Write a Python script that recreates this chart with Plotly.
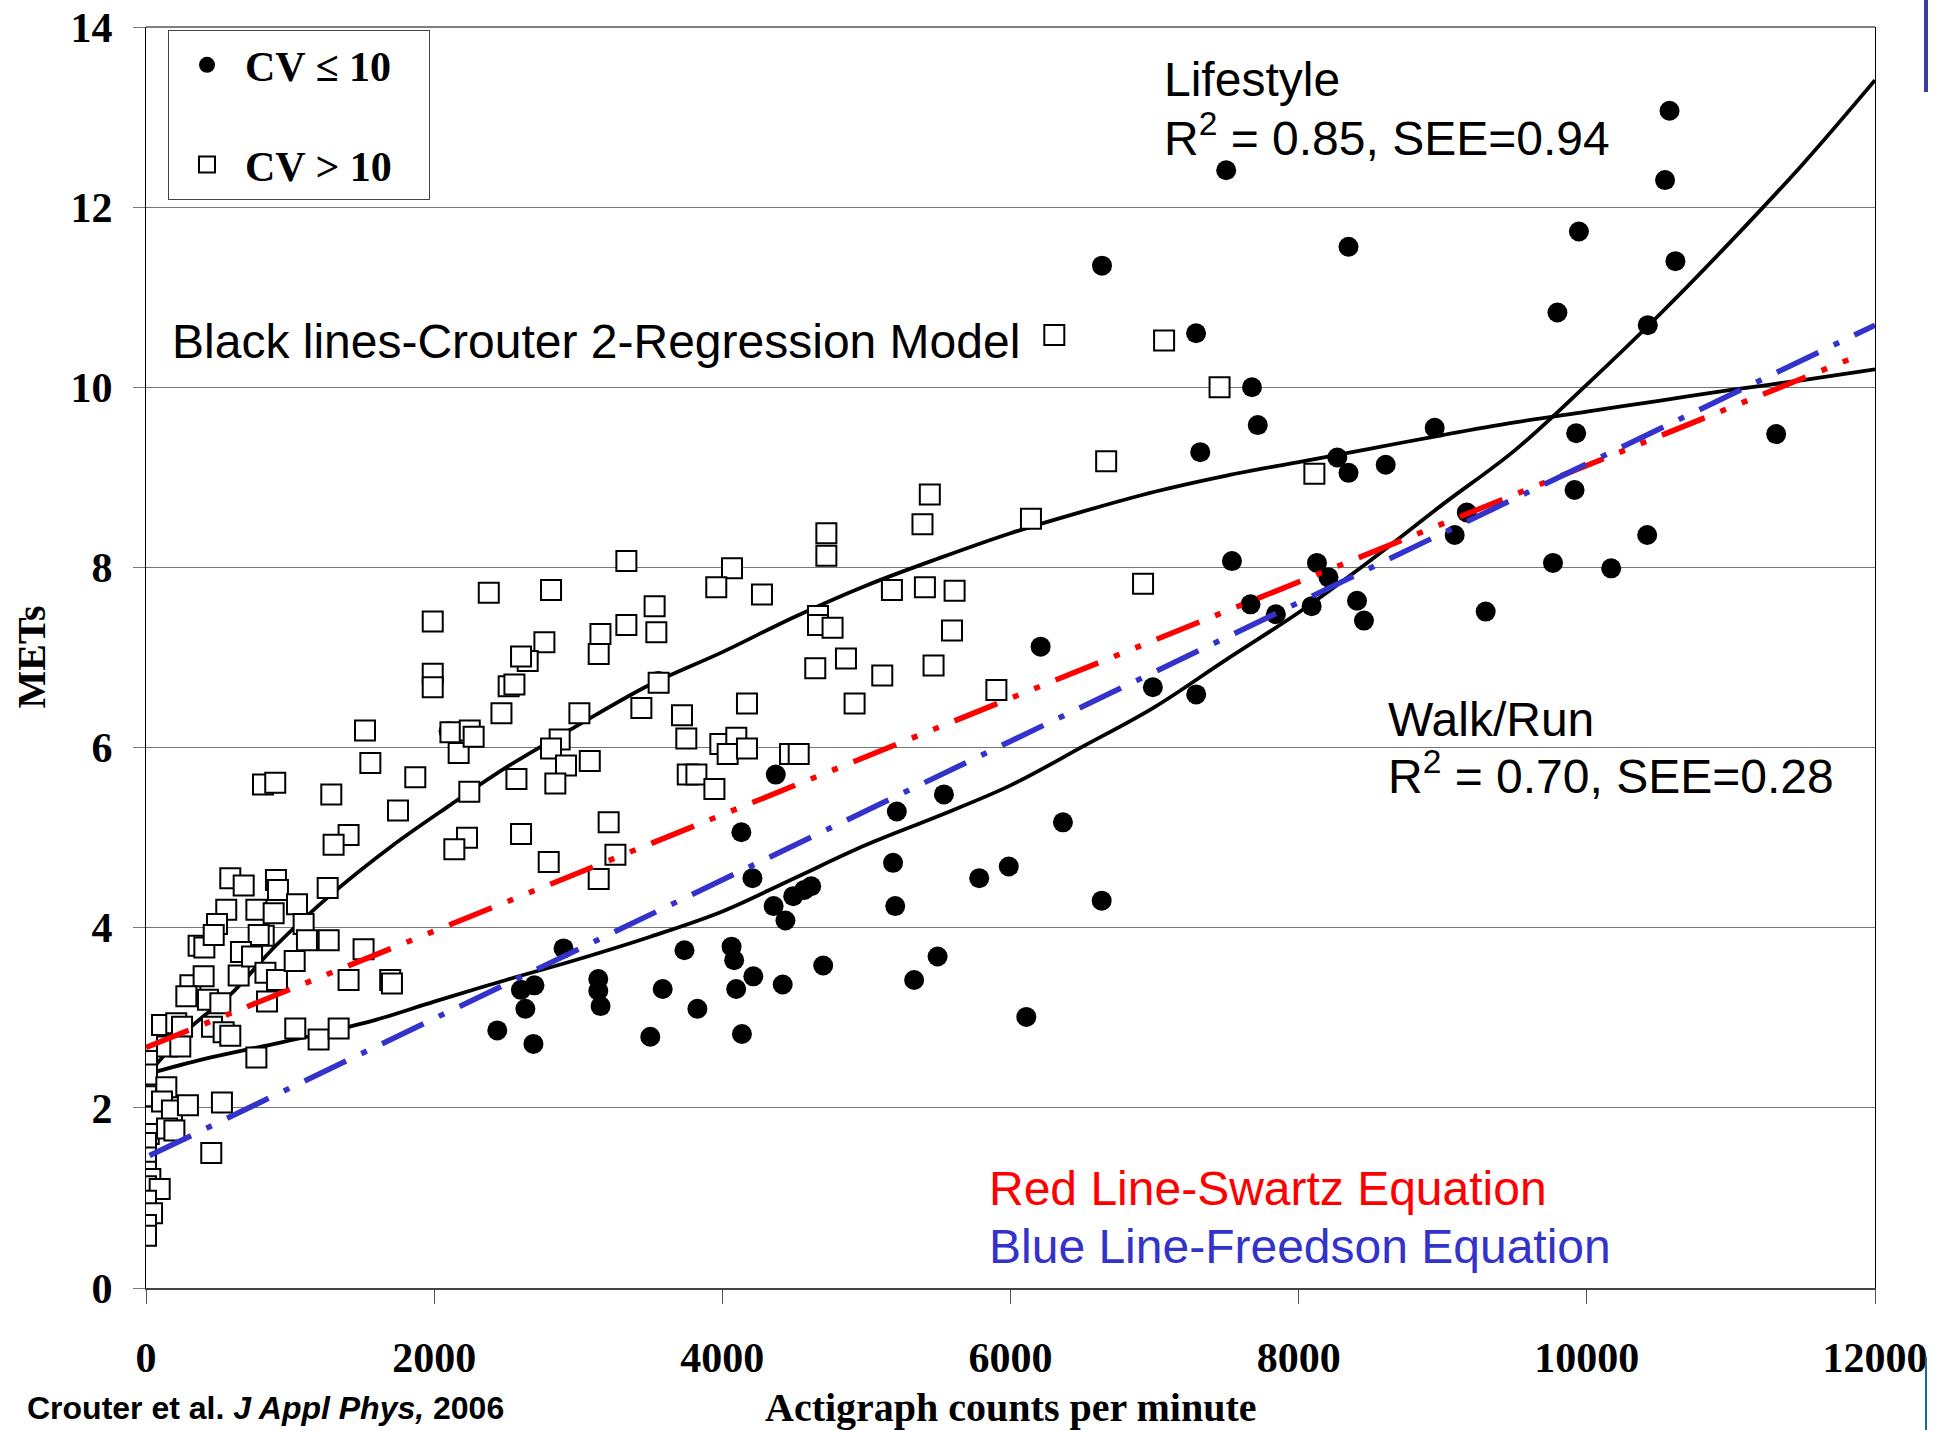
import plotly.graph_objects as go

# ---------------- data ----------------
# CV <= 10 (filled circles)
cv_low_counts = [2438, 2602, 2696, 2633, 2689, 2898, 3139, 3139, 3155, 3500,
                 3586, 3737, 3827, 4064, 4082, 4096, 4136, 4215, 4419, 4132,
                 4209, 4371, 4356, 4438, 4492, 4569, 4617, 4700, 5185, 5211,
                 5200, 5331, 5494, 5538, 5783, 5988, 6110, 6209, 6364, 6633,
                 6635, 6988, 7288, 7289, 7317, 7497, 7537, 7676, 7716, 7666,
                 7842, 8090, 8127, 8207, 8268, 8346, 8346, 8405, 8453, 8604,
                 8944, 9083, 9167, 9298, 9765, 9796, 9915, 9926, 9945, 10169,
                 10423, 10419, 10543, 10574, 10615, 11314, 2100, 3555]
cv_low_mets = [2.86, 3.31, 3.36, 3.10, 2.71, 3.77, 3.43, 3.30, 3.13, 2.79,
               3.32, 3.75, 3.10, 3.79, 3.64, 3.32, 2.82, 3.46, 3.37, 5.06,
               4.55, 5.70, 4.24, 4.08, 4.35, 4.42, 4.46, 3.58, 4.72, 5.29,
               4.24, 3.42, 3.68, 5.48, 4.55, 4.68, 3.01, 7.12, 5.17, 4.30,
               11.35, 6.67, 10.60, 6.59, 9.28, 12.41, 8.07, 10.00, 9.58, 7.59,
               7.48, 7.57, 8.05, 7.89, 9.22, 9.05, 11.56, 7.63, 7.41, 9.14,
               9.55, 8.36, 8.61, 7.51, 8.05, 10.83, 8.86, 9.49, 11.73, 7.99,
               10.69, 8.36, 12.30, 13.07, 11.40, 9.48, 6.18, 6.74]

# CV > 10 (open squares)
cv_high_counts = [812, 897, 1286, 1557, 1869, 2170, 2244, 1749, 1406, 1302, 2228, 2140,
                  585, 678, 902, 916, 1261, 557, 766, 886, 1048, 1094, 493,
                  365, 405, 470, 817, 782, 1117, 1268, 659, 643, 736, 829, 909, 1032,
                  1510, 1406, 1695, 1707, 308, 400, 280, 430, 516, 840,
                  111, 210, 250, 458, 539, 585, 146, 238, 7, 1036, 1198, 1337, 766,
                  7, 141, 0, 111, 180, 291, 527, 19, 146, 197, 453,
                  0, 0, 0, 30, 0, 95, 0, 42, 0, 0, 1520,
                  1990, 2379, 2811, 3334, 4067, 3958, 4275, 4722, 4722, 5177,
                  3530, 3334, 3154, 2765, 2649, 2603, 3142, 3542,
                  4664, 4664, 4765, 4645, 4858, 5110,
                  1990, 1990, 2517, 2557, 3558, 4171, 4918,
                  2467, 3008, 3438, 3720, 3750, 2113, 2247, 2274,
                  3986, 4097, 4037, 4171, 4470, 4530, 3760, 3820, 3945,
                  2871, 2811, 2915, 2841, 3080, 2571, 3211, 2603, 2795, 3258, 3142,
                  5406, 5612, 5594, 5466, 5389, 5440, 5902, 6142, 6664, 6304,
                  7066, 7451, 6920, 8109]
cv_high_mets = [5.59, 5.61, 5.48, 5.83, 5.67, 5.94, 5.51, 5.30, 5.03, 4.92, 5.00, 4.87,
                4.55, 4.47, 4.53, 4.42, 4.44, 4.20, 4.20, 4.16, 4.26, 4.04, 4.04,
                3.80, 3.78, 3.92, 3.91, 3.92, 3.86, 3.86, 3.73, 3.47, 3.68, 3.50, 3.42, 3.63,
                3.76, 3.42, 3.42, 3.38, 3.36, 3.46, 3.24, 3.20, 3.16, 3.18,
                2.92, 2.94, 2.90, 2.90, 2.84, 2.80, 2.68, 2.68, 2.52, 2.88, 2.76, 2.88, 2.56,
                2.37, 2.23, 2.13, 2.07, 1.97, 2.03, 2.06, 1.71, 1.77, 1.75, 1.50,
                1.61, 1.45, 1.29, 1.21, 1.13, 1.10, 0.97, 0.83, 0.70, 0.58, 6.19,
                7.40, 7.72, 7.75, 8.07, 7.99, 7.78, 7.70, 8.38, 8.13, 7.75,
                7.57, 7.36, 7.26, 7.17, 6.96, 7.01, 7.04, 7.28,
                7.46, 7.36, 7.33, 6.88, 6.99, 6.80,
                6.82, 6.67, 6.68, 6.70, 6.72, 6.49, 6.49,
                6.38, 6.38, 6.44, 6.36, 6.10, 6.17, 6.19, 6.12,
                6.04, 6.11, 5.93, 5.99, 5.93, 5.93, 5.70, 5.70, 5.54,
                6.09, 5.99, 5.80, 5.60, 5.85, 5.65, 5.17, 5.04, 4.73, 4.81, 4.54,
                7.78, 7.74, 7.30, 6.91, 8.48, 8.81, 6.64, 8.54, 9.18, 10.58,
                10.52, 10.00, 7.82, 9.04]

# Crouter 2-regression model curves (black)
lifestyle_counts = [0, 300, 600, 900, 1300, 1700, 2100, 2500, 3000, 3500, 4000,
                    4500, 5000, 5500, 6000, 6500, 7000, 7500, 8000, 8500, 9000,
                    9500, 10000, 10500, 11000, 11500, 12000]
lifestyle_mets = [2.35, 2.88, 3.28, 3.80, 4.39, 4.90, 5.35, 5.78, 6.25, 6.70, 7.06,
                  7.45, 7.80, 8.10, 8.38, 8.62, 8.84, 9.02, 9.17, 9.32, 9.47,
                  9.61, 9.73, 9.85, 9.97, 10.08, 10.20]
walkrun_counts = [0, 400, 800, 1200, 1600, 2000, 2500, 3000, 3500, 4000, 4500,
                  5000, 5500, 6000, 6500, 7000, 7500, 8000, 8500, 9000, 9500,
                  10000, 10500, 11000, 11500, 12000]
walkrun_mets = [2.37, 2.54, 2.68, 2.82, 2.98, 3.18, 3.42, 3.65, 3.90, 4.18, 4.55,
                4.92, 5.24, 5.58, 6.01, 6.45, 6.98, 7.50, 8.08, 8.70, 9.30,
                10.03, 10.80, 11.62, 12.48, 13.41]

# Swartz (red) and Freedson (blue) equations
swartz_counts = [0, 11900]
swartz_mets = [2.67, 10.36]
freedson_counts = [25, 12000]
freedson_mets = [1.47, 10.69]

x_ticks = [0, 2000, 4000, 6000, 8000, 10000, 12000]
y_ticks = [0, 2, 4, 6, 8, 10, 12, 14]

# ---------------- figure ----------------
SERIF = "Liberation Serif"
SANS = "Liberation Sans"
NB = "\u00a0"

fig = go.Figure()

fig.add_trace(go.Scatter(
    x=cv_low_counts, y=cv_low_mets, mode="markers", name="CV \u2264 10" + NB * 3,
    legendgroup="a",
    marker=dict(symbol="circle", size=20, color="black", line=dict(width=0)),
))
fig.add_trace(go.Scatter(
    x=lifestyle_counts, y=lifestyle_mets, mode="lines", showlegend=False,
    line=dict(color="black", width=3.8, shape="spline", smoothing=1.0),
))
fig.add_trace(go.Scatter(
    x=walkrun_counts, y=walkrun_mets, mode="lines", showlegend=False,
    line=dict(color="black", width=3.8, shape="spline", smoothing=1.0),
))
fig.add_trace(go.Scatter(
    x=cv_high_counts, y=cv_high_mets, mode="markers", name="CV > 10" + NB * 3,
    legendgroup="b",
    marker=dict(symbol="square", size=20, color="white",
                line=dict(color="black", width=2)),
))
fig.add_trace(go.Scatter(
    x=swartz_counts, y=swartz_mets, mode="lines", showlegend=False,
    line=dict(color="#FF0000", width=5.5, dash="46px,17px,6px,17px,6px,17px"),
))
fig.add_trace(go.Scatter(
    x=freedson_counts, y=freedson_mets, mode="lines", showlegend=False,
    line=dict(color="#3333CC", width=5.5, dash="46px,17px,6px,17px"),
))

W, H = 1933, 1430
ML, MR, MT, MB = 146, 58, 27, 142
PW, PH = W - ML - MR, H - MT - MB


def px(fx):
    return (fx - ML) / PW


def py(fy):
    return (H - MB - fy) / PH


ann_font = dict(family=SANS, size=48, color="black")
annotations = [
    dict(text="Lifestyle", x=px(1162), y=py(80), font=ann_font),
    dict(text="R<sup>2</sup> = 0.85, SEE=0.94", x=px(1162), y=py(135), font=ann_font),
    dict(text="Black lines-Crouter 2-Regression Model", x=px(170), y=py(341), font=ann_font),
    dict(text="Walk/Run", x=px(1386), y=py(719), font=ann_font),
    dict(text="R<sup>2</sup> = 0.70, SEE=0.28", x=px(1386), y=py(773), font=ann_font),
    dict(text="Red Line-Swartz Equation", x=px(987), y=py(1188),
         font=dict(family=SANS, size=48, color="#FF0000")),
    dict(text="Blue Line-Freedson Equation", x=px(987), y=py(1246),
         font=dict(family=SANS, size=48, color="#3333CC")),
    dict(text="<b>Crouter et al. <i>J Appl Phys,</i> 2006</b>", x=px(25), y=py(1408),
         font=dict(family=SANS, size=32, color="black")),
]
for a in annotations:
    a.update(xref="paper", yref="paper", xanchor="left", yanchor="middle",
             showarrow=False)

annotations.append(dict(
    text="<b>Actigraph counts per minute</b>", x=0.5, y=py(1407),
    xref="paper", yref="paper", xanchor="center", yanchor="middle",
    showarrow=False, font=dict(family=SERIF, size=40, color="black")))
annotations.append(dict(
    text="<b>METs</b>", x=px(31), y=0.5, textangle=-90,
    xref="paper", yref="paper", xanchor="center", yanchor="middle",
    showarrow=False, font=dict(family=SERIF, size=40, color="black")))

shapes = [
    # top border of the plotting area
    dict(type="line", xref="paper", yref="paper", x0=0, x1=1, y0=1, y1=1,
         line=dict(color="black", width=1)),
    # slide decoration lines at the right edge
    dict(type="line", xref="paper", yref="paper", x0=px(1926), x1=px(1926),
         y0=py(0), y1=py(92), line=dict(color="#3b3b9b", width=4)),
    dict(type="line", xref="paper", yref="paper", x0=px(1926), x1=px(1926),
         y0=py(1357), y1=py(1430), line=dict(color="#1a6b9a", width=2)),
]

tick_font = dict(family=SERIF, size=42, color="black", weight="bold")

fig.update_layout(
    width=W, height=H, autosize=False,
    margin=dict(l=ML, r=MR, t=MT, b=MB, pad=0, autoexpand=False),
    paper_bgcolor="white", plot_bgcolor="white",
    showlegend=True,
    legend=dict(
        x=px(168), y=py(30), xanchor="left", yanchor="top",
        xref="paper", yref="paper",
        bordercolor="#444444", borderwidth=1, bgcolor="white",
        font=dict(family=SERIF, size=42, color="black", weight="bold"),
        tracegroupgap=42, itemwidth=66, itemsizing="trace",
    ),
    xaxis=dict(
        range=[0, 12000], tickvals=x_ticks, ticktext=[str(v) for v in x_ticks],
        showgrid=False, zeroline=False, automargin=False,
        showline=True, linecolor="#444444", linewidth=2,
        ticks="outside", ticklen=14, tickcolor="#555555", tickwidth=1,
        tickfont=tick_font, ticklabelstandoff=18,
    ),
    yaxis=dict(
        range=[0, 14], tickvals=y_ticks, ticktext=[str(v) for v in y_ticks],
        showgrid=True, gridcolor="#777777", gridwidth=1, zeroline=False,
        automargin=False,
        showline=True, linecolor="black", linewidth=1, mirror=True,
        ticks="outside", ticklen=12, tickcolor="#777777", tickwidth=1,
        tickfont=tick_font, ticklabelstandoff=12,
    ),
    annotations=annotations,
    shapes=shapes,
)

fig.write_html("out.html")
